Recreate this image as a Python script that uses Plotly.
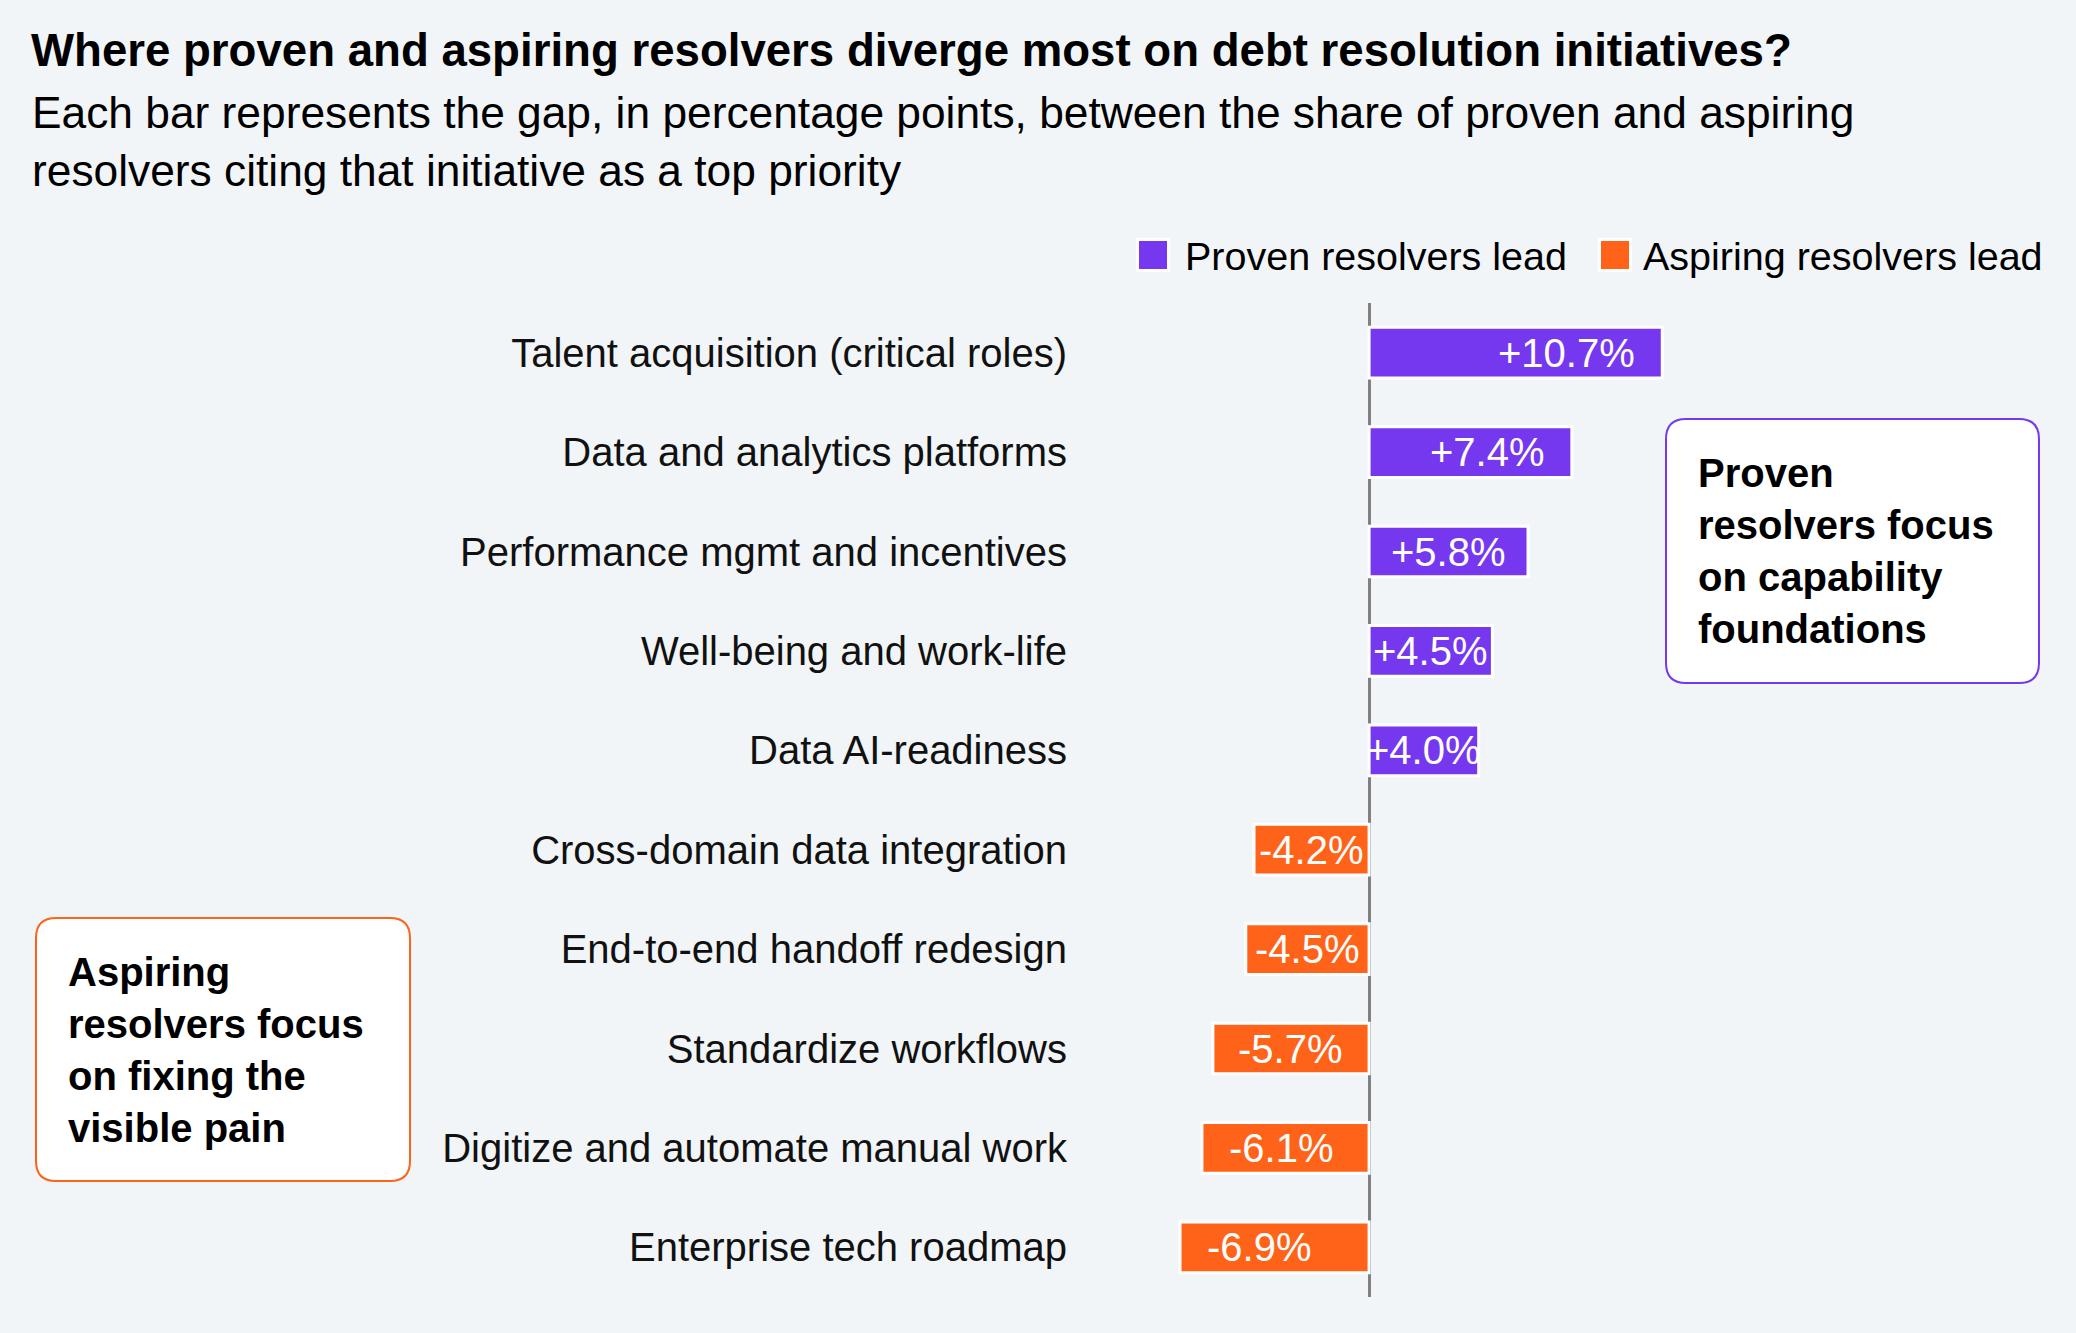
import plotly.graph_objects as go

# ---------------- data ----------------
categories = [
    "Talent acquisition (critical roles)",
    "Data and analytics platforms",
    "Performance mgmt and incentives",
    "Well-being and work-life",
    "Data AI-readiness",
    "Cross-domain data integration",
    "End-to-end handoff redesign",
    "Standardize workflows",
    "Digitize and automate manual work",
    "Enterprise tech roadmap",
]
gaps = [10.7, 7.4, 5.8, 4.5, 4.0, -4.2, -4.5, -5.7, -6.1, -6.9]
series_names = ["Proven resolvers lead", "Aspiring resolvers lead"]

title_text = "Where proven and aspiring resolvers diverge most on debt resolution initiatives?"
subtitle_lines = [
    "Each bar represents the gap, in percentage points, between the share of proven and aspiring",
    "resolvers citing that initiative as a top priority",
]
proven_note = ["Proven", "resolvers focus", "on capability", "foundations"]
aspiring_note = ["Aspiring", "resolvers focus", "on fixing the", "visible pain"]

# ---------------- style / layout constants ----------------
W, H = 2076, 1333
ML, MR, MT, MB = 1080, 26, 303, 36
PW, PH = W - ML - MR, H - MT - MB
XMIN, XMAX = -10.55, 24.85
SCALE = PW / (XMAX - XMIN)  # px per unit

PURPLE = "#7638EF"
ORANGE = "#FF6319"
BG = "#F2F5F8"
FONT = "Liberation Sans, Arial, Helvetica, sans-serif"
FS = 40


def px_x(p):
    return (p - ML) / PW


def px_y(p):
    return 1 - (p - MT) / PH


# Arial/Liberation Sans advance widths (per 1000 em) for label characters
ADV = {"+": 584, "-": 333, ".": 278, "%": 889}
ADV.update({str(d): 556 for d in range(10)})


def text_w(s):
    return sum(ADV[c] for c in s) * FS / 1000


labels = [f"{v:+.1f}%" for v in gaps]
PAD = 27
label_x = []
for v, lab in zip(gaps, labels):
    w = text_w(lab)
    end = v * SCALE
    mid = end / 2
    if v >= 0:
        c = max(end - PAD - w / 2, mid)
    else:
        c = min(end + PAD + w / 2, mid)
    label_x.append(c / SCALE)

pos_idx = [i for i, v in enumerate(gaps) if v >= 0]
neg_idx = [i for i, v in enumerate(gaps) if v < 0]

fig = go.Figure()
fig.add_trace(go.Bar(
    x=[gaps[i] for i in pos_idx], y=[categories[i] for i in pos_idx],
    orientation="h", name=series_names[0],
    marker=dict(color=PURPLE, line=dict(color="white", width=3)),
    showlegend=False, hoverinfo="x+y",
))
fig.add_trace(go.Bar(
    x=[gaps[i] for i in neg_idx], y=[categories[i] for i in neg_idx],
    orientation="h", name=series_names[1],
    marker=dict(color=ORANGE, line=dict(color="white", width=3)),
    showlegend=False, hoverinfo="x+y",
))


def rounded_rect(x0, y0, x1, y1, r):
    pts = [
        ("M", x0 + r, y0), ("L", x1 - r, y0), ("Q", x1, y0, x1, y0 + r),
        ("L", x1, y1 - r), ("Q", x1, y1, x1 - r, y1),
        ("L", x0 + r, y1), ("Q", x0, y1, x0, y1 - r),
        ("L", x0, y0 + r), ("Q", x0, y0, x0 + r, y0),
    ]
    parts = []
    for p in pts:
        cmd = p[0]
        coords = p[1:]
        cs = []
        for k in range(0, len(coords), 2):
            cs.append(f"{px_x(coords[k]):.6f},{px_y(coords[k + 1]):.6f}")
        parts.append(cmd + " ".join(cs))
    return " ".join(parts) + " Z"


shapes = []
annotations = []

# bar value labels (positioned from the data through the axes)
for lx, cat, lab in zip(label_x, categories, labels):
    annotations.append(dict(
        xref="x", yref="y", x=lx, y=cat, text=lab, showarrow=False,
        xanchor="center", yanchor="middle",
        font=dict(family=FONT, size=FS, color="white"),
    ))

# note boxes
for (bx0, by0, bx1, by1, col, lines) in [
    (1666, 419, 2039, 683, PURPLE, proven_note),
    (36, 918, 410, 1181, ORANGE, aspiring_note),
]:
    shapes.append(dict(type="path", xref="paper", yref="paper",
                       path=rounded_rect(bx0, by0, bx1, by1, 20),
                       fillcolor="white", line=dict(color=col, width=2),
                       layer="below"))
    annotations.append(dict(
        xref="paper", yref="paper", x=px_x(bx0 + 30), y=px_y((by0 + by1) / 2),
        xanchor="left", yanchor="middle", align="left", showarrow=False,
        text="<b>" + "<br>".join(lines) + "</b>",
        font=dict(family=FONT, size=FS, color="black"),
    ))

# custom legend
for (sx0, tx, col, name) in [
    (1137.5, 1183, PURPLE, series_names[0]),
    (1599.5, 1641, ORANGE, series_names[1]),
]:
    shapes.append(dict(type="rect", xref="paper", yref="paper",
                       x0=px_x(sx0), x1=px_x(sx0 + 31), y0=px_y(239.5), y1=px_y(270.5),
                       fillcolor=col, line=dict(color="white", width=3)))
    annotations.append(dict(
        xref="paper", yref="paper", x=px_x(tx), y=px_y(256),
        xanchor="left", yanchor="middle", showarrow=False, text=name,
        font=dict(family=FONT, size=39.5, color="black"),
    ))

# subtitle
annotations.append(dict(
    xref="paper", yref="paper", x=px_x(30), y=px_y(86),
    xanchor="left", yanchor="top", align="left", showarrow=False,
    text="<br>".join(subtitle_lines),
    font=dict(family=FONT, size=44.3, color="black"),
))

fig.update_layout(
    width=W, height=H,
    margin=dict(l=ML, r=MR, t=MT, b=MB, autoexpand=False),
    paper_bgcolor=BG, plot_bgcolor=BG,
    barmode="relative", bargap=0.49,
    title=dict(text=f"<b>{title_text}</b>", xref="container", yref="container",
               x=31 / W, xanchor="left", y=1 - 34 / H, yanchor="top",
               pad=dict(l=0, t=0, b=0, r=0),
               font=dict(family=FONT, size=45.6, color="black")),
    xaxis=dict(range=[XMIN, XMAX], showgrid=False, showticklabels=False, ticks="",
               zeroline=True, zerolinecolor="#808080", zerolinewidth=3,
               layer="above traces", fixedrange=True),
    yaxis=dict(categoryorder="array", categoryarray=categories, autorange="reversed",
               showgrid=False, zeroline=False, ticks="", ticklabelstandoff=12,
               tickfont=dict(family=FONT, size=FS, color="#111111"), fixedrange=True),
    shapes=shapes, annotations=annotations,
    showlegend=False,
)

fig.write_html("out.html", config={"displayModeBar": False})
